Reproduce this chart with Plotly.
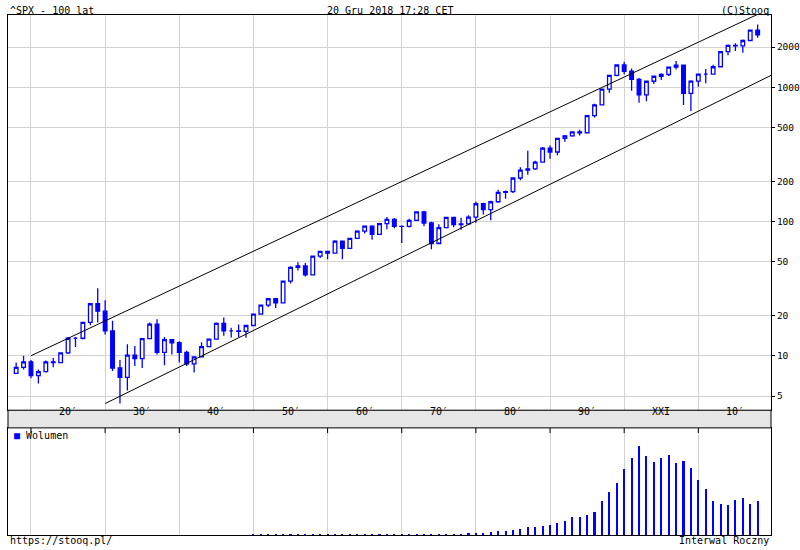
import plotly.graph_objects as go

years = list(range(1918, 2019))
prev_close_1917 = 7.4
closes = [8.2, 9.0, 7.1, 7.6, 9.0, 8.9, 10.5, 13.5, 13.5, 17.7,
          24.4, 21.5, 15.3, 8.1, 6.9, 10.1, 9.5, 13.4, 17.2, 10.6,
          13.2, 12.5, 10.6, 8.7, 9.8, 11.7, 13.3, 17.4, 15.3, 15.3,
          15.2, 16.8, 20.4, 23.8, 26.6, 24.8, 36.0, 45.5, 46.7, 40.0,
          55.2, 59.9, 58.1, 71.6, 63.1, 75.0, 84.8, 92.4, 80.3, 96.5,
          103.9, 92.1, 92.2, 102.1, 118.1, 97.6, 68.6, 90.2, 107.5, 95.1,
          96.1, 107.9, 135.8, 122.6, 140.6, 164.9, 167.2, 211.3, 242.2, 247.1,
          277.7, 353.4, 330.2, 417.1, 435.7, 466.5, 459.3, 615.9, 740.7, 970.4,
          1229.2, 1469.3, 1320.3, 1148.1, 879.8, 1111.9, 1211.9, 1248.3, 1418.3, 1468.4,
          903.3, 1115.1, 1257.6, 1257.6, 1426.2, 1848.4, 2058.9, 2043.9, 2238.8, 2673.6,
          2467.4]
highs = [8.9, 10.0, 9.3, 7.9, 9.2, 9.6, 10.6, 13.8, 13.8, 17.8,
         24.4, 31.9, 25.9, 18.2, 9.3, 12.2, 11.8, 13.5, 17.7, 18.7,
         13.8, 13.2, 12.8, 10.9, 9.8, 12.6, 13.3, 17.7, 19.3, 16.2,
         17.1, 16.8, 20.4, 23.9, 26.6, 26.7, 36.0, 46.4, 49.7, 49.1,
         55.2, 60.7, 60.4, 72.6, 71.1, 75.0, 86.3, 92.6, 94.1, 97.6,
         108.4, 106.2, 93.5, 104.8, 119.1, 120.2, 99.8, 95.6, 107.8, 107.0,
         107.0, 111.3, 141.0, 138.1, 143.0, 172.7, 170.4, 212.0, 254.0, 336.8,
         283.7, 360.4, 369.8, 418.3, 442.7, 471.3, 482.9, 622.9, 757.0, 983.8,
         1244.9, 1473.1, 1553.1, 1383.4, 1176.9, 1112.6, 1217.3, 1275.8, 1431.8, 1576.1,
         1471.8, 1130.4, 1262.6, 1370.6, 1474.5, 1849.4, 2093.6, 2134.7, 2277.5, 2695.0,
         2940.9]
lows = [7.3, 7.9, 6.8, 6.2, 7.5, 8.2, 8.8, 10.3, 11.6, 13.2,
        16.9, 17.7, 14.4, 7.7, 4.4, 5.5, 8.4, 8.1, 13.4, 10.2,
        8.5, 10.2, 8.9, 8.4, 7.5, 9.8, 11.6, 13.2, 14.1, 13.7,
        13.8, 13.6, 16.6, 20.7, 23.1, 22.7, 24.8, 34.6, 43.1, 39.0,
        40.3, 53.6, 52.3, 57.6, 52.3, 62.7, 75.4, 81.6, 73.2, 80.4,
        87.7, 89.2, 69.3, 90.2, 101.7, 92.2, 62.3, 70.0, 90.9, 90.7,
        86.9, 96.1, 98.2, 112.8, 102.4, 138.3, 147.8, 163.4, 203.5, 223.9,
        242.6, 275.3, 294.5, 311.5, 394.5, 429.0, 438.9, 459.1, 597.3, 737.0,
        912.8, 1212.2, 1254.1, 944.8, 768.6, 788.9, 1060.7, 1136.2, 1219.3, 1363.0,
        741.0, 666.8, 1010.9, 1074.8, 1258.9, 1426.2, 1737.9, 1867.0, 1810.1, 2245.1,
        2346.6]
opens = [prev_close_1917] + closes[:-1]

vol_years = list(range(1950, 2019))
volumes = [0.3, 0.3, 0.3, 0.3, 0.3, 0.3, 0.3, 0.3, 0.4, 0.4,
           0.5, 0.5, 0.5, 0.5, 0.5, 0.6, 0.6, 0.7, 0.8, 0.8,
           0.9, 0.9, 0.9, 0.9, 0.9, 1.0, 1.2, 1.2, 1.5, 1.7,
           2.2, 2.5, 3.0, 4.0, 4.5, 5.0, 6.5, 8.0, 8.0, 9.0,
           10.0, 12.0, 14.0, 18.0, 18.0, 20.0, 23.0, 34.0, 43.0, 52.0,
           66.0, 77.0, 89.0, 79.0, 73.0, 77.0, 80.0, 72.0, 74.0, 67.0,
           55.0, 46.0, 34.0, 31.0, 30.0, 35.0, 37.0, 31.0, 34.0]

upper_x = [1920, 2025]
upper_y = [10.0, 5330.0]
lower_x = [1930, 2024]
lower_y = [4.4, 1600.0]

tick_years = [1920, 1930, 1940, 1950, 1960, 1970, 1980, 1990, 2000, 2010]
decade_labels = ["20′", "30′", "40′", "50′", "60′", "70′", "80′", "90′", "XXI", "10′"]
price_ticks = [5, 10, 20, 50, 100, 200, 500, 1000, 2000]

BLUE = "#0000ff"
FONT = dict(family="DejaVu Sans Mono", size=10, color="black")
TFONT = dict(family="DejaVu Sans Mono", size=9.5, color="black")

fig = go.Figure()
fig.add_trace(go.Candlestick(
    x=years, open=opens, high=highs, low=lows, close=closes,
    increasing=dict(line=dict(color=BLUE, width=1.3), fillcolor="white"),
    decreasing=dict(line=dict(color=BLUE, width=1.3), fillcolor=BLUE),
    whiskerwidth=0, xaxis="x", yaxis="y", showlegend=False, hoverinfo="skip"))
fig.add_trace(go.Scatter(x=upper_x, y=upper_y, mode="lines",
                         line=dict(color="black", width=1), xaxis="x", yaxis="y", showlegend=False))
fig.add_trace(go.Scatter(x=lower_x, y=lower_y, mode="lines",
                         line=dict(color="black", width=1), xaxis="x", yaxis="y", showlegend=False))
fig.add_trace(go.Bar(x=vol_years, y=volumes, width=0.28, marker=dict(color=BLUE, line=dict(width=0)),
                     xaxis="x2", yaxis="y2", showlegend=False))

xr = [1916.9, 2019.8]
fig.update_layout(
    width=800, height=550, paper_bgcolor="white", plot_bgcolor="white", showlegend=False,
    margin=dict(l=8, r=29, t=15, b=15, autoexpand=False), font=FONT, bargap=0,
    xaxis=dict(domain=[0, 1], range=xr, anchor="y", rangeslider=dict(visible=False),
               tickvals=tick_years, showticklabels=False, showgrid=True, gridcolor="#d3d3d3",
               gridwidth=1, showline=True, linecolor="black", mirror=True, ticks="", zeroline=False,
               automargin=False),
    yaxis=dict(domain=[0.240, 1], type="log", range=[0.594, 3.54], side="right",
               tickvals=price_ticks, ticktext=[str(v) for v in price_ticks],
               showgrid=True, gridcolor="#d3d3d3", showline=True, linecolor="black", mirror=True,
               ticks="outside", ticklen=3, tickcolor="black", tickfont=TFONT, automargin=False),
    xaxis2=dict(domain=[0, 1], range=xr, anchor="y2", tickvals=tick_years, showticklabels=False,
                showgrid=True, gridcolor="#d3d3d3", showline=True, linecolor="black", mirror=True,
                ticks="", zeroline=False, automargin=False),
    yaxis2=dict(domain=[0, 0.206], range=[0, 107], side="right", showticklabels=False,
                showgrid=False, showline=True, linecolor="black", mirror=True, ticks="",
                zeroline=False, automargin=False),
)

fig.add_shape(type="rect", xref="paper", yref="paper", x0=0, x1=1, y0=0.206, y1=0.240,
              fillcolor="#e6e6e6", line=dict(color="black", width=1), layer="above")
for yv, lab in zip(tick_years, decade_labels):
    fig.add_annotation(x=yv + 5, y=0.223, xref="x", yref="paper", text=lab, showarrow=False,
                       font=FONT)
    fig.add_shape(type="line", xref="x", yref="paper", x0=yv, x1=yv, y0=0.206, y1=0.196,
                  line=dict(color="black", width=1))

fig.add_annotation(x=0, y=1.0, xref="paper", yref="paper", xanchor="left", yanchor="bottom",
                   text="^SPX - 100 lat", showarrow=False, font=FONT, yshift=-3)
fig.add_annotation(x=0.5, y=1.0, xref="paper", yref="paper", xanchor="center", yanchor="bottom",
                   text="20 Gru 2018 17:28 CET", showarrow=False, font=FONT, yshift=-3)
fig.add_annotation(x=1, y=1.0, xref="paper", yref="paper", xanchor="right", yanchor="bottom",
                   text="(C)Stooq", showarrow=False, font=FONT, yshift=-3)
fig.add_annotation(x=0, y=0, xref="paper", yref="paper", xanchor="left", yanchor="top",
                   text="https://stooq.pl/", showarrow=False, font=FONT, yshift=2)
fig.add_annotation(x=1, y=0, xref="paper", yref="paper", xanchor="right", yanchor="top",
                   text="Interwal Roczny", showarrow=False, font=FONT, yshift=2)
fig.add_annotation(x=0.005, y=0.206, xref="paper", yref="paper", xanchor="left", yanchor="top",
                   text="<span style='color:#0000ff'>■</span> Wolumen", showarrow=False, font=FONT)

fig.write_html("out.html", config={"displayModeBar": False},
               post_script="document.body.style.margin='0';")
